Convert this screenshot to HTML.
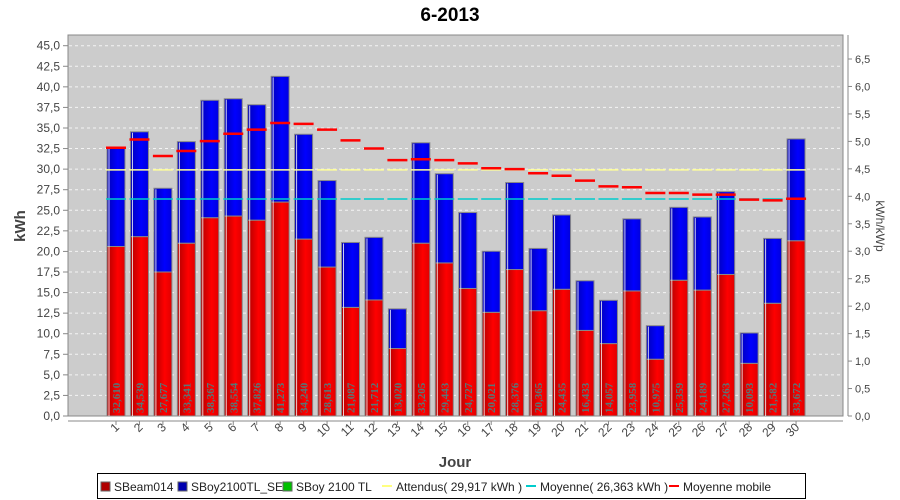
<!DOCTYPE html>
<html><head><meta charset="utf-8"><style>
body{margin:0;background:#fff;width:900px;height:500px;overflow:hidden;font-family:"Liberation Sans",sans-serif}
svg{display:block}
</style></head><body>
<svg id="chart" width="900" height="500" xmlns="http://www.w3.org/2000/svg">
<defs>
<linearGradient id="gr" x1="0" x2="1" y1="0" y2="0"><stop offset="0" stop-color="#b00000"/><stop offset="0.6" stop-color="#ff0000"/><stop offset="1" stop-color="#e00000"/></linearGradient>
<linearGradient id="gb" x1="0" x2="1" y1="0" y2="0"><stop offset="0" stop-color="#0000b8"/><stop offset="0.6" stop-color="#0000ff"/><stop offset="1" stop-color="#0000dd"/></linearGradient>
</defs>
<text x="450" y="21" text-anchor="middle" font-size="19" font-weight="bold" fill="#000">6-2013</text>
<rect x="68" y="35" width="775" height="381" fill="#cccccc" stroke="#888" stroke-width="1"/>
<g id="grid"></g><g id="bars"></g><g id="lines"></g><g id="axes"></g>
<text transform="translate(25,226) rotate(-90)" text-anchor="middle" font-size="15" font-weight="bold" fill="#444">kWh</text>
<text transform="translate(876,226) rotate(90)" text-anchor="middle" font-size="12" fill="#444">kWh/kWp</text>
<text x="455" y="467" text-anchor="middle" font-size="15" font-weight="bold" fill="#444">Jour</text>
<g font-size="12" fill="#222">
<rect x="97.5" y="473.5" width="708" height="25" fill="#fff" stroke="#000"/>
<g><rect x="101" y="482" width="9" height="9" fill="#b00000" stroke="#666"/><text x="114" y="491">SBeam014</text></g>
<g><rect x="178" y="482" width="9" height="9" fill="#0000b0" stroke="#666"/><text x="191" y="491">SBoy2100TL_SE</text></g>
<g><rect x="283" y="482" width="9" height="9" fill="#00c000" stroke="#666"/><text x="296" y="491">SBoy 2100 TL</text></g>
<g><rect x="303" y="485" width="10" height="2" fill="#ffff80" transform="translate(79,0)"/><text x="396" y="491">Attendus( 29,917 kWh )</text></g>
<g><rect x="416" y="485" width="10" height="2" fill="#00cccc" transform="translate(110,0)"/><text x="540" y="491">Moyenne( 26,363 kWh )</text></g>
<g><rect x="529" y="485" width="10" height="2" fill="#ff0000" transform="translate(140,0)"/><text x="683" y="491">Moyenne mobile</text></g>
</g>
</svg>
<script>
const days=[1,2,3,4,5,6,7,8,9,10,11,12,13,14,15,16,17,18,19,20,21,22,23,24,25,26,27,28,29,30];
const sbeam=[20.6,21.8,17.5,21.0,24.1,24.3,23.8,26.0,21.5,18.1,13.2,14.1,8.2,21.0,18.6,15.5,12.6,17.8,12.8,15.4,10.4,8.8,15.2,6.9,16.5,15.3,17.2,6.4,13.7,21.3];
const totals=[32.610,34.539,27.677,33.341,38.367,38.554,37.826,41.273,34.240,28.613,21.087,21.712,13.020,33.205,29.443,24.727,20.021,28.376,20.365,24.435,16.433,14.057,23.958,10.975,25.359,24.189,27.263,10.093,21.582,33.672];
const totalLabels=["32,610","34,539","27,677","33,341","38,367","38,554","37,826","41,273","34,240","28,613","21,087","21,712","13,020","33,205","29,443","24,727","20,021","28,376","20,365","24,435","16,433","14,057","23,958","10,975","25,359","24,189","27,263","10,093","21,582","33,672"];
const movingAvg=[32.6,33.6,31.6,32.2,33.4,34.3,34.8,35.6,35.5,34.8,33.5,32.5,31.1,31.2,31.1,30.7,30.1,30.0,29.5,29.2,28.6,27.9,27.8,27.1,27.1,26.9,26.9,26.3,26.2,26.4];
const expected=29.917;
const average=26.363;
const yTicks=["0,0","2,5","5,0","7,5","10,0","12,5","15,0","17,5","20,0","22,5","25,0","27,5","30,0","32,5","35,0","37,5","40,0","42,5","45,0"];
const y2Ticks=["0,0","0,5","1,0","1,5","2,0","2,5","3,0","3,5","4,0","4,5","5,0","5,5","6,0","6,5"];

const NS="http://www.w3.org/2000/svg";
const y=v=>416-v*(370.3/45);
const y2=v=>416-v*(357/6.5);
const x=i=>116+i*23.45;
function mk(p,tag,attrs){const e=document.createElementNS(NS,tag);for(const k in attrs)e.setAttribute(k,attrs[k]);p.appendChild(e);return e;}
const grid=document.getElementById('grid'),bars=document.getElementById('bars'),lines=document.getElementById('lines'),axes=document.getElementById('axes');
yTicks.forEach((t,i)=>{const v=i*2.5;
 if(i>0){const g=mk(grid,'line',{x1:69,x2:842,y1:y(v),y2:y(v),stroke:'#f4f4f4','stroke-dasharray':'3,3','stroke-width':1});
 
 }
 const tk=mk(axes,'line',{x1:63,x2:68,y1:y(v),y2:y(v),stroke:'#888'});
 
 
 const tx=mk(axes,'text',{x:60,y:y(v)+4,'text-anchor':'end','font-size':12,fill:'#444'});tx.textContent=t;
 
 
});
const ax2=mk(axes,'line',{x1:848,x2:848,y1:35,y2:416,stroke:'#888'});


y2Ticks.forEach((t,i)=>{const v=i*0.5;
 const tk=mk(axes,'line',{x1:848,x2:852,y1:y2(v),y2:y2(v),stroke:'#888'});
 
 
 const tx=mk(axes,'text',{x:855,y:y2(v)+4,'font-size':11,fill:'#444'});tx.textContent=t;
 
 
});
const xa=mk(axes,'line',{x1:68,x2:843,y1:421,y2:421,stroke:'#888'});


days.forEach((d,i)=>{
 const cx=x(i),w=18,l=cx-9;
 const r=mk(bars,'rect',{x:l,y:y(sbeam[i]),width:w,height:y(0)-y(sbeam[i]),fill:'url(#gr)',stroke:'#888','stroke-width':1});
 
 
 const b=mk(bars,'rect',{x:l,y:y(totals[i]),width:w,height:y(sbeam[i])-y(totals[i]),fill:'url(#gb)',stroke:'#888','stroke-width':1});
 
 
 const hl=mk(bars,'line',{x1:l+2,x2:l+2,y1:y(totals[i])+1,y2:y(0),stroke:'#fff','stroke-width':1,opacity:0.8});
 
 
 const lb=mk(bars,'text',{transform:`translate(${cx+4},413) rotate(-90)`,'font-size':11,'font-weight':'bold','font-family':'Liberation Serif,serif',fill:'#557777'});lb.textContent=totalLabels[i];
 
 
 const ey=mk(lines,'line',{x1:cx-10,x2:cx+10,y1:y(expected),y2:y(expected),stroke:'#ffff99','stroke-width':1.5});
 
 
 const av=mk(lines,'line',{x1:cx-10,x2:cx+10,y1:y(average),y2:y(average),stroke:'#00cccc','stroke-width':1.5});
 
 
 const mm=mk(lines,'line',{x1:cx-10,x2:cx+10,y1:y(movingAvg[i]),y2:y(movingAvg[i]),stroke:'#ff0000','stroke-width':2.5});
 
 
 const tk=mk(axes,'line',{x1:cx,x2:cx,y1:421,y2:425,stroke:'#888'});
 
 
 const tx=mk(axes,'text',{transform:`translate(${cx+4},428) rotate(-45)`,'text-anchor':'end','font-size':12,fill:'#444'});tx.textContent=d;
 
 
});
</script>
</body></html>
